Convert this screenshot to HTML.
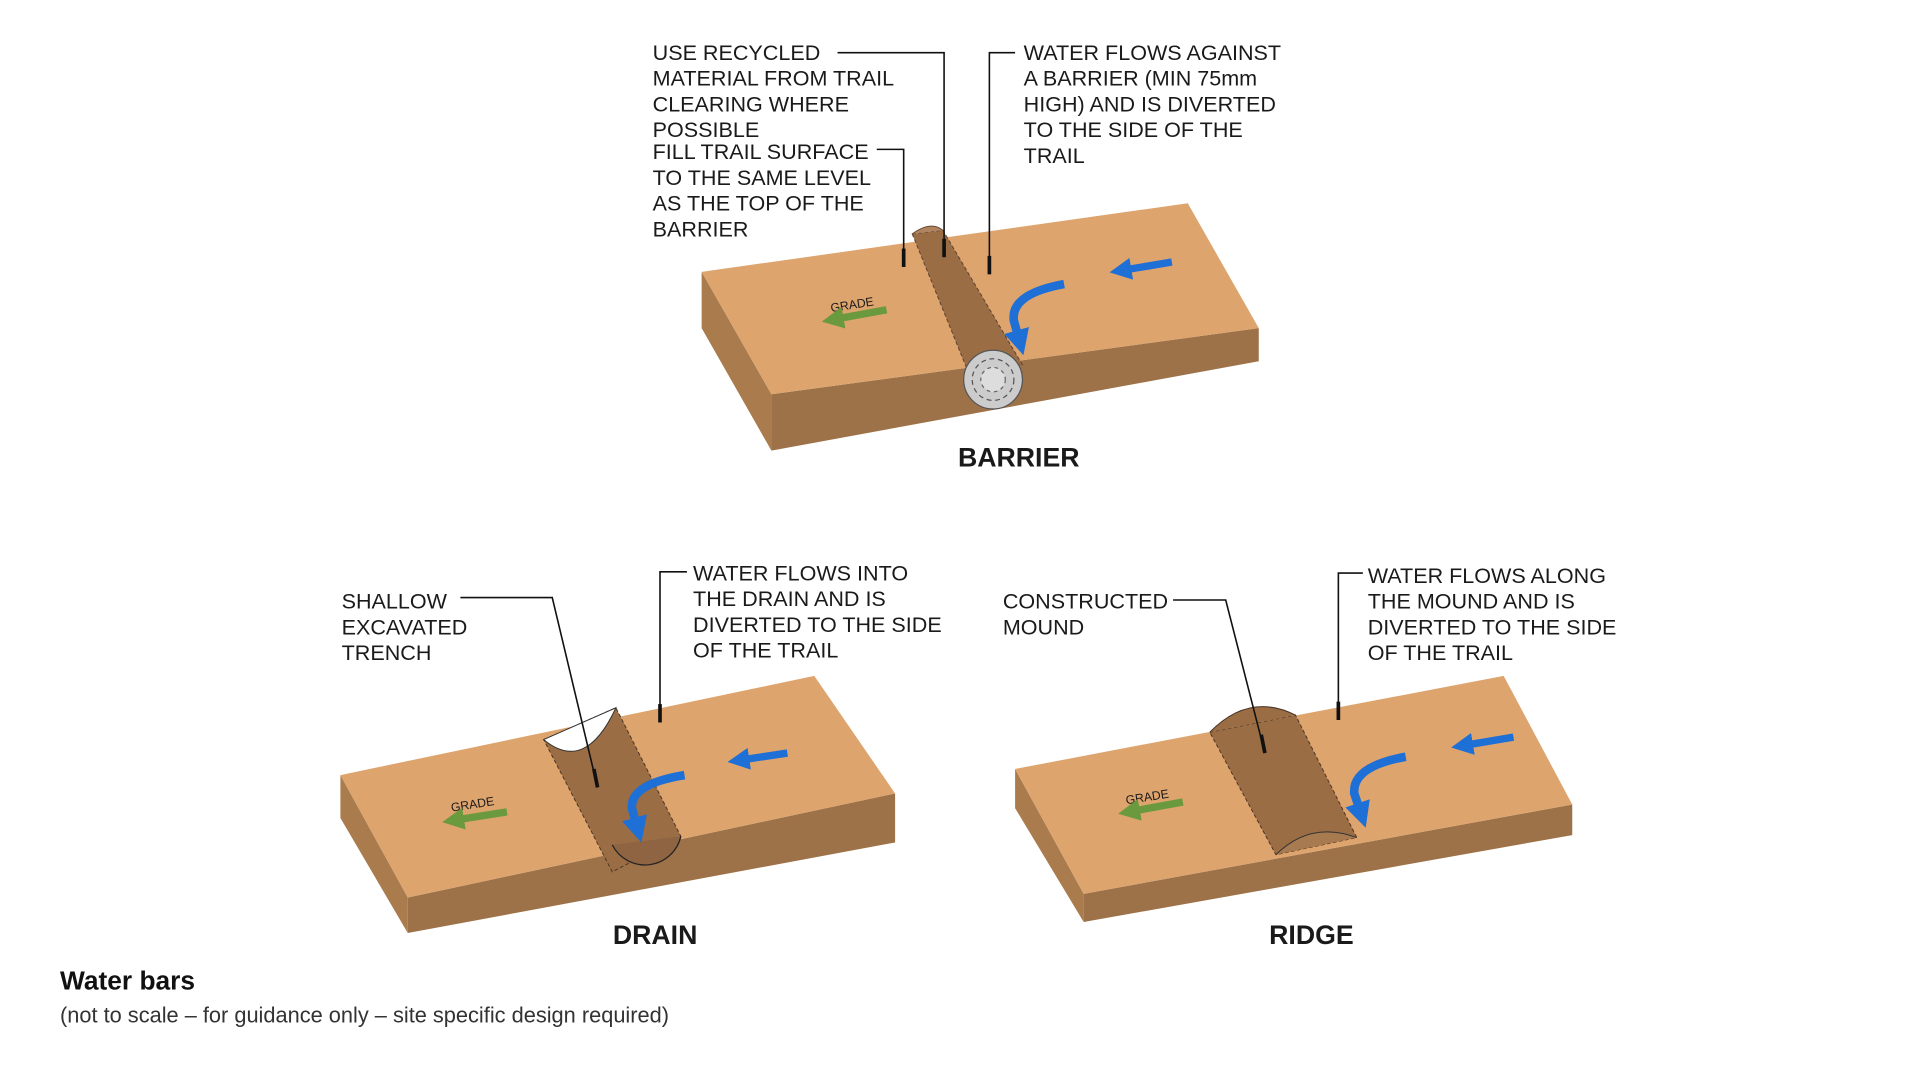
<!DOCTYPE html>
<html><head><meta charset="utf-8"><style>
html,body{margin:0;padding:0;background:#fff;}
svg{display:block}
text{font-family:"Liberation Sans",Arial,sans-serif;fill:#1a1a1a}
.l{font-size:17.6px}
.h{font-size:21.8px;font-weight:bold}
</style></head><body>
<svg width="1920" height="1080" viewBox="0 0 1568 882" xmlns="http://www.w3.org/2000/svg">
<defs>
<marker id="bh" viewBox="0 0 10 10" refX="5" refY="5" markerWidth="3" markerHeight="3" orient="auto"><path d="M0,0 L10,5 L0,10 z" fill="#1e6fd6"/></marker>
<marker id="gh" viewBox="0 0 10 10" refX="5" refY="5" markerWidth="3" markerHeight="3" orient="auto"><path d="M0,0 L10,5 L0,10 z" fill="#6b9a3e"/></marker>
</defs>

<!-- BARRIER -->
<polygon points="573,222 630,322 630,368 573,268" fill="#a97b4d"/>
<polygon points="630,322 1028,268 1028,295 630,368" fill="#9e7248"/>
<polygon points="573,222 970,166 1028,268 630,322" fill="#dea46d"/>
<polygon points="745,191 770,188 835,298 790,302" fill="#9a6d45" stroke="#5a4030" stroke-dasharray="3,2" stroke-width="0.8"/>
<path d="M745,191 Q760,180 770,188" fill="#b08460" stroke="#6a4a30" stroke-width="0.8"/>
<circle cx="811" cy="310" r="24" fill="#ccc" stroke="#555" stroke-width="1"/>
<circle cx="811" cy="310" r="17" fill="none" stroke="#555" stroke-dasharray="4,3" stroke-width="1"/>
<circle cx="811" cy="310" r="10" fill="#ddd" stroke="#666" stroke-dasharray="3,3" stroke-width="1"/>
<path d="M957,214 L915,221" stroke="#1e6fd6" stroke-width="6" fill="none" marker-end="url(#bh)"/>
<path d="M869,232 Q825,240 828,262 L833,280" stroke="#1e6fd6" stroke-width="7" fill="none" marker-end="url(#bh)"/>
<text x="678" y="252" transform="rotate(-9 697 248)" style="font-size:10px">GRADE</text>
<path d="M724,253 L680,261" stroke="#6b9a3e" stroke-width="6" fill="none" marker-end="url(#gh)"/>
<g fill="none" stroke="#111" stroke-width="1.3">
<polyline points="684,43 771,43 771,210"/><line x1="771" y1="195" x2="771" y2="210" stroke-width="3"/>
<polyline points="716,122 738,122 738,218"/><line x1="738" y1="203" x2="738" y2="218" stroke-width="3"/>
<polyline points="829,43 808,43 808,224"/><line x1="808" y1="209" x2="808" y2="224" stroke-width="3"/>
</g>
<text class="l" x="533" y="49">USE RECYCLED</text>
<text class="l" x="533" y="70">MATERIAL FROM TRAIL</text>
<text class="l" x="533" y="91">CLEARING WHERE</text>
<text class="l" x="533" y="112">POSSIBLE</text>
<text class="l" x="533" y="130">FILL TRAIL SURFACE</text>
<text class="l" x="533" y="151">TO THE SAME LEVEL</text>
<text class="l" x="533" y="172">AS THE TOP OF THE</text>
<text class="l" x="533" y="193">BARRIER</text>
<text class="l" x="836" y="49">WATER FLOWS AGAINST</text>
<text class="l" x="836" y="70">A BARRIER (MIN 75mm</text>
<text class="l" x="836" y="91">HIGH) AND IS DIVERTED</text>
<text class="l" x="836" y="112">TO THE SIDE OF THE</text>
<text class="l" x="836" y="133">TRAIL</text>
<text class="h" x="832" y="381" text-anchor="middle">BARRIER</text>

<!-- DRAIN -->
<polygon points="278,633 333,733 333,762 278,668" fill="#a97b4d"/>
<polygon points="333,733 731,648 731,688 333,762" fill="#9e7248"/>
<polygon points="278,633 665,552 731,648 333,733" fill="#dea46d"/>
<polygon points="444,604 503,578 556,683 500,712" fill="#9a6d45" stroke="#4a3424" stroke-dasharray="3,2" stroke-width="0.8"/>
<path d="M444,604 Q478,632 503,578 z" fill="#fff" stroke="#333" stroke-width="0.8"/>
<path d="M500,690 A30,30 0 0 0 556,683" fill="#8e6442" stroke="#222" stroke-width="1"/>
<path d="M643,615 L603,621" stroke="#1e6fd6" stroke-width="6" fill="none" marker-end="url(#bh)"/>
<path d="M559,633 Q515,640 516,660 L521,678" stroke="#1e6fd6" stroke-width="7" fill="none" marker-end="url(#bh)"/>
<text x="368" y="660" transform="rotate(-9 387 656)" style="font-size:10px">GRADE</text>
<path d="M414,663 L370,670" stroke="#6b9a3e" stroke-width="6" fill="none" marker-end="url(#gh)"/>
<g fill="none" stroke="#111" stroke-width="1.3">
<polyline points="376,488 451,488 488,643"/><line x1="485" y1="628" x2="488" y2="643" stroke-width="3"/>
<polyline points="561,467 539,467 539,590"/><line x1="539" y1="575" x2="539" y2="590" stroke-width="3"/>
</g>
<text class="l" x="279" y="497">SHALLOW</text>
<text class="l" x="279" y="518">EXCAVATED</text>
<text class="l" x="279" y="539">TRENCH</text>
<text class="l" x="566" y="474">WATER FLOWS INTO</text>
<text class="l" x="566" y="495">THE DRAIN AND IS</text>
<text class="l" x="566" y="516">DIVERTED TO THE SIDE</text>
<text class="l" x="566" y="537">OF THE TRAIL</text>
<text class="h" x="535" y="771" text-anchor="middle">DRAIN</text>

<!-- RIDGE -->
<polygon points="829,628 885,730 885,753 829,660" fill="#a97b4d"/>
<polygon points="885,730 1284,657 1284,682 885,753" fill="#9e7248"/>
<polygon points="829,628 1228,552 1284,657 885,730" fill="#dea46d"/>
<polygon points="988,598 1058,584 1108,684 1042,698" fill="#9a6d45" stroke="#4a3424" stroke-dasharray="3,2" stroke-width="0.8"/>
<path d="M988,598 Q1020,565 1058,584" fill="#9a6d45" stroke="#4a3424" stroke-width="0.8"/>
<path d="M1042,698 Q1070,670 1108,684" fill="#a87a50" stroke="#333" stroke-width="0.8"/>
<path d="M1236,602 L1194,609" stroke="#1e6fd6" stroke-width="6" fill="none" marker-end="url(#bh)"/>
<path d="M1148,618 Q1104,626 1106,648 L1112,666" stroke="#1e6fd6" stroke-width="7" fill="none" marker-end="url(#bh)"/>
<text x="919" y="654" transform="rotate(-9 938 650)" style="font-size:10px">GRADE</text>
<path d="M966,655 L922,663" stroke="#6b9a3e" stroke-width="6" fill="none" marker-end="url(#gh)"/>
<g fill="none" stroke="#111" stroke-width="1.3">
<polyline points="958,490 1001,490 1033,615"/><line x1="1030" y1="600" x2="1033" y2="615" stroke-width="3"/>
<polyline points="1113,468 1093,468 1093,588"/><line x1="1093" y1="573" x2="1093" y2="588" stroke-width="3"/>
</g>
<text class="l" x="819" y="497">CONSTRUCTED</text>
<text class="l" x="819" y="518">MOUND</text>
<text class="l" x="1117" y="476">WATER FLOWS ALONG</text>
<text class="l" x="1117" y="497">THE MOUND AND IS</text>
<text class="l" x="1117" y="518">DIVERTED TO THE SIDE</text>
<text class="l" x="1117" y="539">OF THE TRAIL</text>
<text class="h" x="1071" y="771" text-anchor="middle">RIDGE</text>

<text x="49" y="808" style="font-size:21.5px;font-weight:bold;fill:#111">Water bars</text>
<text x="49" y="835" style="font-size:17.8px;fill:#333">(not to scale – for guidance only – site specific design required)</text>
</svg>
</body></html>
